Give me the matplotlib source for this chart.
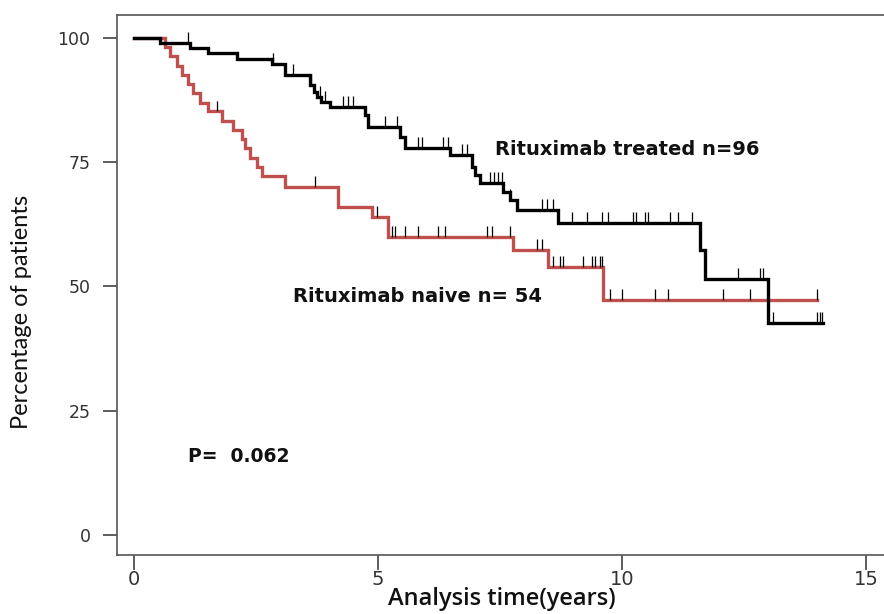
import numpy as np
import matplotlib
matplotlib.use("Agg")
import matplotlib.pyplot as plt

# Kaplan-Meier curves (time in years, survival in %)
treated_times = [0.53, 1.15, 1.52, 2.11, 2.83, 3.09, 3.61, 3.69, 3.75, 3.83,
                 4.02, 4.73, 4.80, 5.45, 5.55, 6.48, 6.93, 6.99, 7.09, 7.56,
                 7.70, 7.85, 8.69, 11.60, 11.70, 12.99]
treated_surv = [99.0, 97.9, 96.9, 95.8, 94.8, 92.6, 90.6, 89.1, 88.1, 87.1,
                86.1, 84.5, 82.1, 80.1, 77.9, 76.5, 74.0, 72.4, 70.8, 69.0,
                67.4, 65.4, 62.8, 57.3, 51.5, 42.6]
treated_end = 14.12
treated_censor = [1.11, 2.85, 3.26, 3.63, 3.81, 3.91, 4.28, 4.39, 4.49, 5.14,
                  5.39, 5.82, 5.90, 6.33, 6.43, 6.72, 6.82, 7.30, 7.38, 7.46,
                  7.54, 7.70, 8.36, 8.46, 8.59, 8.98, 9.28, 9.59, 9.71, 10.23,
                  10.29, 10.47, 10.53, 10.98, 11.15, 11.43, 12.38, 12.83, 12.89,
                  13.09, 13.99, 14.06, 14.10]

naive_times = [0.64, 0.74, 0.88, 0.98, 1.11, 1.21, 1.35, 1.52, 1.80, 2.03,
               2.21, 2.27, 2.38, 2.52, 2.62, 3.09, 4.18, 4.88, 5.20, 7.77,
               8.48, 9.61]
naive_surv = [98.1, 96.3, 94.4, 92.6, 90.7, 88.9, 87.0, 85.2, 83.3, 81.5,
              79.6, 77.8, 75.9, 74.1, 72.2, 70.0, 66.0, 64.0, 60.0, 57.3,
              53.9, 47.3]
naive_end = 14.0
naive_censor = [1.70, 3.71, 4.98, 5.29, 5.35, 5.55, 5.82, 6.23, 6.37, 7.23,
                7.34, 7.70, 8.26, 8.36, 8.59, 8.73, 8.79, 9.20, 9.39, 9.45,
                9.55, 9.59, 9.75, 10.0, 10.68, 10.94, 12.07, 12.62, 14.0]

x_ticks = [0, 5, 10, 15]
y_ticks = [0, 25, 50, 75, 100]


def km_curve(times, surv, end):
    t = np.array([0.0] + list(times) + [end])
    s = np.array([100.0] + list(surv) + [surv[-1]])
    return t, s


def censor_levels(times, surv, censor):
    t = np.array([0.0] + list(times))
    s = np.array([100.0] + list(surv))
    idx = np.searchsorted(t, censor, side="right") - 1
    return s[idx]


fig = plt.figure(figsize=(8.84, 6.14), dpi=100)
ax = fig.add_axes([117 / 884, 1 - 555 / 614, 790 / 884, (555 - 15) / 614])

red = "#c0504d"
for times, surv, end, cens, col in [
        (naive_times, naive_surv, naive_end, naive_censor, red),
        (treated_times, treated_surv, treated_end, treated_censor, "black")]:
    t, s = km_curve(times, surv, end)
    ax.step(t, s, where="post", color=col, lw=2.4, solid_joinstyle="miter")
    cy = censor_levels(times, surv, cens)
    ax.vlines(cens, cy, cy + 2.2, color="black", lw=0.9)

# x range chosen so that the axes extends past the right edge of the figure
ax.set_xlim(-0.348, (790 - 17) / 48.8)
ax.set_ylim(-4.0, 104.6)
ax.set_xticks(x_ticks)
ax.set_yticks(y_ticks)
ax.tick_params(axis="y", direction="out", length=10, width=1.1,
               colors="#333333", labelsize=12.5, pad=9)
ax.tick_params(axis="x", direction="out", length=11, width=1.1,
               colors="#333333", pad=0)
for lab in ax.get_xticklabels():
    lab.set_family("Liberation Sans Narrow")
    lab.set_fontsize(14)
for side in ["left", "bottom", "top"]:
    ax.spines[side].set_color("#555555")
    ax.spines[side].set_linewidth(1.2)
ax.spines["right"].set_visible(False)

fig.text(22 / 884, 1 - 312 / 614, "Percentage of patients", family="Lato",
         fontsize=17, rotation=90, ha="center", va="center", color="#111111")
fig.text(502 / 884, 1 - 599 / 614, "Analysis time(years)", family="Open Sans",
         fontsize=17, fontweight="semibold", ha="center", va="center",
         color="#111111")

ax.text(7.40, 77.5, "Rituximab treated n=96", fontsize=14, fontweight="bold",
        va="center", ha="left", color="#111111")
ax.text(3.26, 47.9, "Rituximab naive n= 54", fontsize=14, fontweight="bold",
        va="center", ha="left", color="#111111")
ax.text(1.11, 15.9, "P=  0.062", fontsize=13.5, fontweight="bold",
        va="center", ha="left", color="#111111")

fig.savefig("out.png", dpi=100)
